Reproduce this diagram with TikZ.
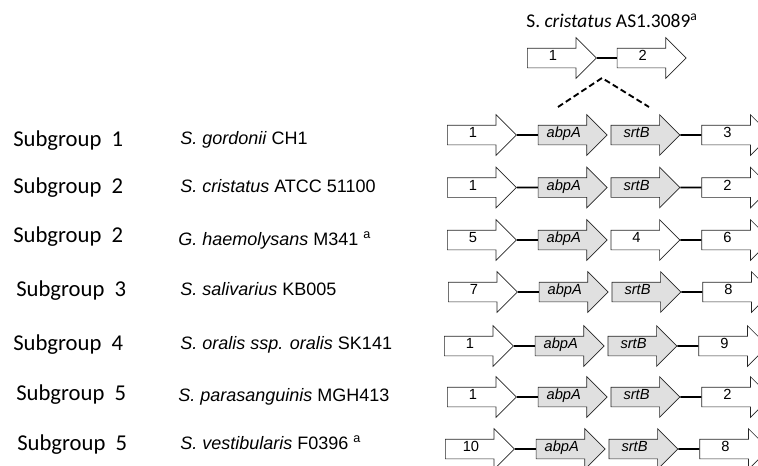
\documentclass[tikz,border=0pt]{standalone}
\usepackage{fontspec}
\setmainfont{Liberation Sans}
\newfontfamily\grpfont{Carlito}
\usetikzlibrary{shapes.arrows,positioning}

\begin{document}
\begin{tikzpicture}[x=0.75pt, y=-0.75pt,
    genetext/.style = {inner sep=0pt, xshift=-3pt, text height=6.5pt, text depth=2.5pt, font=\fontsize{11}{12}\selectfont},
    gene/.style = {draw=black!85, line width=0.5pt, fill=white, single arrow,
        single arrow head extend=7.875pt, single arrow tip angle=90, single arrow head indent=0pt,
        minimum height=51.75pt, inner xsep=0pt, inner ysep=2.625pt, text height=7pt, text depth=2pt,
        label={[genetext]center:#1}},
    core/.style = {gene={\textit{#1}}, fill=black!12},
    link/.style = {line width=1.2pt},
    insert/.style = {line width=1.4pt, dash pattern=on 4.5pt off 2.5pt},
    grp/.style = {anchor=base west, inner sep=0pt, font=\grpfont\fontsize{17}{20}\selectfont},
    strain/.style = {anchor=base west, inner sep=0pt, font=\fontsize{13.5}{16}\selectfont}]

    \useasboundingbox (0,0) rectangle (758,465);

    % AS1.3089 on top
    \node[anchor=base, inner sep=0pt, font=\grpfont\fontsize{14.6}{16}\selectfont] (title) at (612,27) {S. \textit{cristatus} AS1.3089\textsuperscript{a}};
    \node[gene=1, anchor=tail] (t1) at (527,58) {};
    \node[gene=2] (t2) [right=15pt of t1] {};
    \draw[link] (t1.tip) -- (t2.tail);
    \coordinate (insl) at (558,107);
    \coordinate (inst) at (602,78);
    \coordinate (insr) at (649,107);
    \draw[insert] (insl) -- (inst) -- (insr);

    % row 1
    \node[grp] (g1) at (13,146) {Subgroup\hspace{0.45em}1};
    \node[strain] (s1) at (180,144) {\textit{S. gordonii} CH1};
    \node[gene=1, anchor=tail] (r1a) at (447,135) {};
    \node[core=abpA] (r1b) [right=15.75pt of r1a] {};
    \node[core=srtB] (r1c) [right=2.25pt of r1b] {};
    \node[gene=3] (r1d) [right=15.75pt of r1c] {};
    \draw[link] (r1a.tip) -- (r1b.tail);
    \draw[link] (r1c.tip) -- (r1d.tail);

    % row 2
    \node[grp] (g2) at (13,193) {Subgroup\hspace{0.45em}2};
    \node[strain] (s2) at (180,192) {\textit{S. cristatus} ATCC 51100};
    \node[gene=1, anchor=tail] (r2a) at (447,187.5) {};
    \node[core=abpA] (r2b) [right=15.75pt of r2a] {};
    \node[core=srtB] (r2c) [right=2.25pt of r2b] {};
    \node[gene=2] (r2d) [right=15.75pt of r2c] {};
    \draw[link] (r2a.tip) -- (r2b.tail);
    \draw[link] (r2c.tip) -- (r2d.tail);

    % row 3
    \node[grp] (g3) at (13,242) {Subgroup\hspace{0.45em}2};
    \node[strain] (s3) at (178,245) {\textit{G. haemolysans} M341 \textsuperscript{a}};
    \node[gene=5, anchor=tail] (r3a) at (447,240) {};
    \node[core=abpA] (r3b) [right=15.75pt of r3a] {};
    \node[gene=4] (r3c) [right=2.25pt of r3b] {};
    \node[gene=6] (r3d) [right=15.75pt of r3c] {};
    \draw[link] (r3a.tip) -- (r3b.tail);
    \draw[link] (r3c.tip) -- (r3d.tail);

    % row 4
    \node[grp] (g4) at (16,296) {Subgroup\hspace{0.45em}3};
    \node[strain] (s4) at (180,295) {\textit{S. salivarius} KB005};
    \node[gene=7, anchor=tail] (r4a) at (448,292) {};
    \node[core=abpA] (r4b) [right=15.75pt of r4a] {};
    \node[core=srtB] (r4c) [right=2.25pt of r4b] {};
    \node[gene=8] (r4d) [right=15.75pt of r4c] {};
    \draw[link] (r4a.tip) -- (r4b.tail);
    \draw[link] (r4c.tip) -- (r4d.tail);

    % row 5
    \node[grp] (g5) at (13,350) {Subgroup\hspace{0.45em}4};
    \node[strain] (s5) at (180,349) {\textit{S. oralis ssp. oralis} SK141};
    \node[gene=1, anchor=tail] (r5a) at (444,346) {};
    \node[core=abpA] (r5b) [right=15.75pt of r5a] {};
    \node[core=srtB] (r5c) [right=2.25pt of r5b] {};
    \node[gene=9] (r5d) [right=15.75pt of r5c] {};
    \draw[link] (r5a.tip) -- (r5b.tail);
    \draw[link] (r5c.tip) -- (r5d.tail);

    % row 6
    \node[grp] (g6) at (16,400) {Subgroup\hspace{0.45em}5};
    \node[strain] (s6) at (178,401) {\textit{S. parasanguinis} MGH413};
    \node[gene=1, anchor=tail] (r6a) at (447,397) {};
    \node[core=abpA] (r6b) [right=15.75pt of r6a] {};
    \node[core=srtB] (r6c) [right=2.25pt of r6b] {};
    \node[gene=2] (r6d) [right=15.75pt of r6c] {};
    \draw[link] (r6a.tip) -- (r6b.tail);
    \draw[link] (r6c.tip) -- (r6d.tail);

    % row 7
    \node[grp] (g7) at (17,450) {Subgroup\hspace{0.45em}5};
    \node[strain] (s7) at (180,449) {\textit{S. vestibularis} F0396 \textsuperscript{a}};
    \node[gene=10, anchor=tail] (r7a) at (445,449) {};
    \node[core=abpA] (r7b) [right=15.75pt of r7a] {};
    \node[core=srtB] (r7c) [right=2.25pt of r7b] {};
    \node[gene=8] (r7d) [right=15.75pt of r7c] {};
    \draw[link] (r7a.tip) -- (r7b.tail);
    \draw[link] (r7c.tip) -- (r7d.tail);

\end{tikzpicture}
\end{document}
